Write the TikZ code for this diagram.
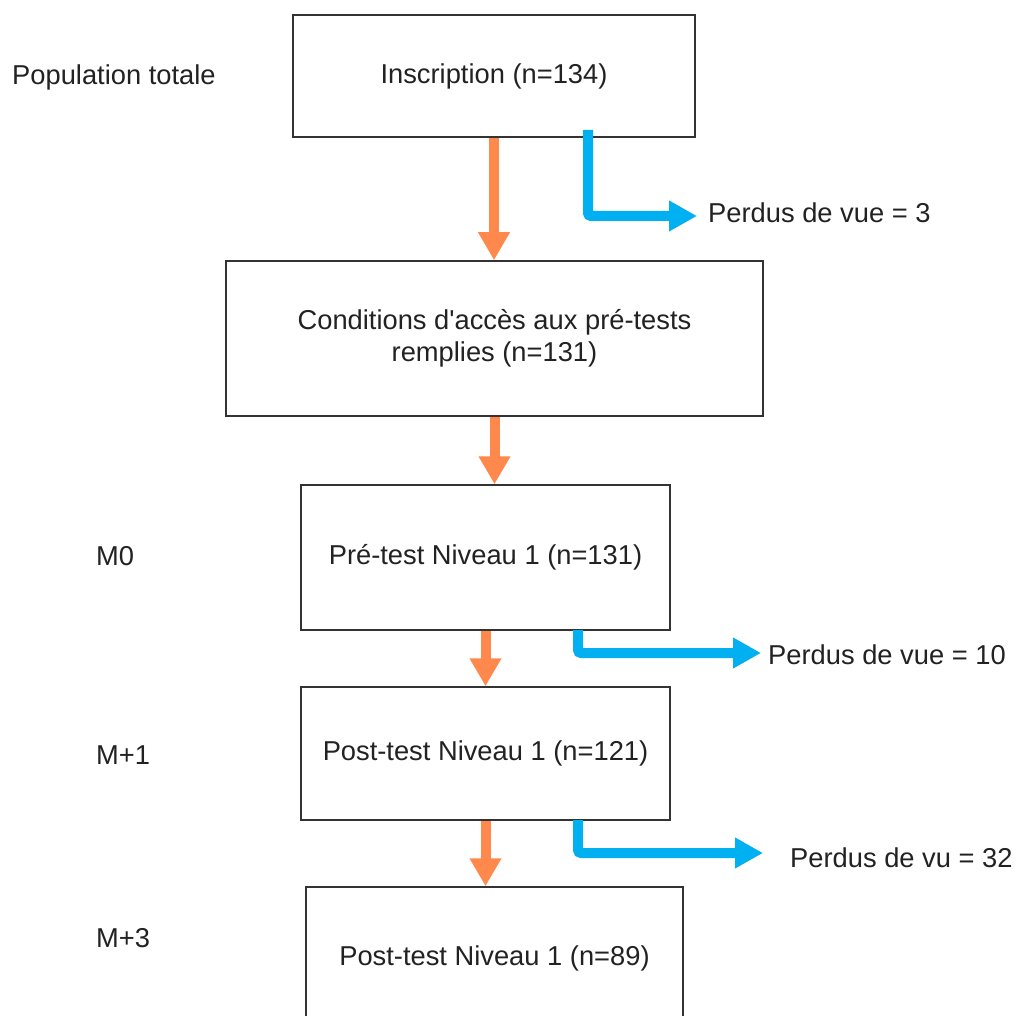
\documentclass[tikz,border=0pt]{standalone}
\usepackage{fontspec}
\setmainfont{Liberation Sans}[Ligatures=TeXOff]
\usetikzlibrary{arrows.meta}
\definecolor{oarr}{RGB}{255,136,77}
\definecolor{barr}{RGB}{0,176,240}
\definecolor{txt}{RGB}{34,34,34}
\definecolor{edge}{RGB}{51,51,51}
\begin{document}
\begin{tikzpicture}[x=1pt,y=-1pt,
  every node/.style={font=\fontsize{27.3}{32}\selectfont, text=txt},
  box/.style={draw=edge, line width=1.5pt, fill=white, align=center, inner sep=0pt},
  lbl/.style={anchor=west, inner sep=4pt},
  oarrow/.style={draw=oarr, line width=10pt, -{Triangle[width=30pt,length=28pt]}},
  barrow/.style={draw=barr, line width=10pt, rounded corners=3pt, -{Triangle[width=29pt,length=28pt]}}
]
\clip (0,0) rectangle (1019,1016);
\fill[white] (0,0) rectangle (1019,1016);

\node[box, minimum width=402pt, minimum height=122pt] (b1) at (494,76) {Inscription (n=134)};
\node[box, minimum width=537pt, minimum height=155pt] (b2) at (494.5,338.5) {Conditions d'accès aux pré-tests\\[0pt]remplies (n=131)};
\node[box, minimum width=369pt, minimum height=145pt] (b3) at (485.5,557.5) {Pré-test Niveau 1 (n=131)};
\node[box, minimum width=369pt, minimum height=133pt] (b4) at (485.5,753.5) {Post-test Niveau 1 (n=121)};
\node[box, minimum width=377pt, minimum height=143pt] (b5) at (494.5,958.5) {Post-test Niveau 1 (n=89)};

\node[lbl] (pop) at (8,77) {Population totale};
\node[lbl] (m0) at (92,556) {M0};
\node[lbl] (m1) at (92,755) {M+1};
\node[lbl] (m3) at (92,938) {M+3};

\node[lbl] (p1) at (704,213) {Perdus de vue = 3};
\node[lbl] (p2) at (764,655) {Perdus de vue = 10};
\node[lbl] (p3) at (786,858) {Perdus de vu = 32};

\draw[oarrow] (b1.south) -- (b1.south |- b2.north);
\draw[oarrow] (b2.south) -- (b2.south |- b3.north);
\draw[oarrow] (b3.south) -- (b3.south |- b4.north);
\draw[oarrow] (b4.south) -- (b4.south |- b5.north);

\coordinate (s1) at (588,130);
\coordinate (t1) at (697,216);
\coordinate (s2) at (578,630);
\coordinate (t2) at (761,653);
\coordinate (s3) at (578,820);
\coordinate (t3) at (763,853);
\draw[barrow] (s1) |- (t1);
\draw[barrow] (s2) |- (t2);
\draw[barrow] (s3) |- (t3);
\end{tikzpicture}
\end{document}
